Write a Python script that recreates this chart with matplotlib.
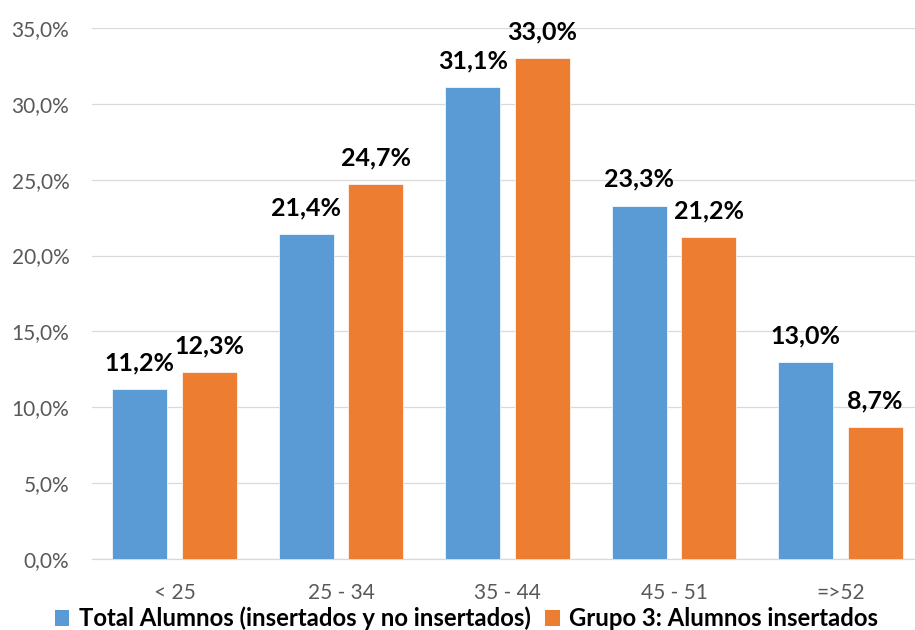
import matplotlib
matplotlib.use("Agg")
import matplotlib.pyplot as plt
import numpy as np
from matplotlib.patches import Patch

# data
categorias = ["< 25", "25 - 34", "35 - 44", "45 - 51", "=>52"]
total_alumnos = [11.2, 21.4, 31.1, 23.3, 13.0]
grupo3 = [12.3, 24.7, 33.0, 21.2, 8.7]
serie_nombres = ["Total Alumnos (insertados y no insertados)", "Grupo 3: Alumnos insertados"]
yticks = [0, 5, 10, 15, 20, 25, 30, 35]

azul = "#5B9BD5"
naranja = "#ED7D31"

plt.rcParams['font.family'] = ['Lato', 'DejaVu Sans']

fig = plt.figure(figsize=(9.15, 6.3), dpi=100)
ax = fig.add_axes([91.5 / 915, 71 / 630, 1 - 91.5 / 915, 531 / 630])

x = np.arange(len(categorias))
ancho = 0.33
b1 = ax.bar(x - 0.21, total_alumnos, ancho, color=azul, edgecolor="white", linewidth=0.5, zorder=3)
b2 = ax.bar(x + 0.207, grupo3, ancho, color=naranja, edgecolor="white", linewidth=0.5, zorder=3)

# etiquetas de datos
for barras, vals in [(b1, total_alumnos), (b2, grupo3)]:
    for rect, v in zip(barras, vals):
        ax.annotate(f"{v:.1f}%".replace(".", ","),
                    (rect.get_x() + rect.get_width() / 2, v),
                    xytext=(0, 13.5), textcoords="offset points",
                    ha="center", va="baseline", fontsize=18,
                    fontweight="bold", color="black")

ax.set_xlim(-0.5, 4.446)
ax.set_ylim(0, 35)
ax.set_yticks(yticks)
ax.set_yticklabels([f"{t:.1f}%".replace(".", ",") for t in yticks])
ax.set_xticks(x)
ax.set_xticklabels(categorias)
ax.tick_params(axis="both", length=0, labelsize=15, labelcolor="#595959")
ax.tick_params(axis="y", pad=16)
ax.tick_params(axis="x", pad=17)

ax.grid(axis="y", color="#D9D9D9", linewidth=0.9, zorder=0)
for s in ["top", "right", "left"]:
    ax.spines[s].set_visible(False)
ax.spines["bottom"].set_color("#D9D9D9")
ax.spines["bottom"].set_linewidth(0.9)

handles = [Patch(facecolor=azul), Patch(facecolor=naranja)]
leg = fig.legend(handles, serie_nombres, ncol=2, loc="center",
                 bbox_to_anchor=(0.51, 0.018), frameon=False,
                 prop={"size": 17.2, "weight": "bold"},
                 handlelength=0.6, handleheight=0.6,
                 handletextpad=0.4, columnspacing=0.6,
                 borderpad=0, borderaxespad=0)

fig.savefig("out.png", dpi=100)
